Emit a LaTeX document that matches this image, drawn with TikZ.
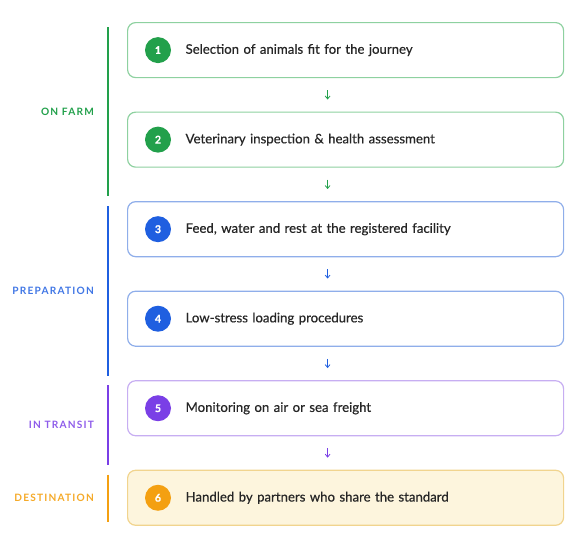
\documentclass[tikz,border=0pt]{standalone}
\usepackage{fontspec}
\setmainfont{Lato}[FakeBold=0.5]
\newfontfamily\phasefont[LetterSpace=12]{Lato Bold}
\usetikzlibrary{positioning,arrows.meta}
\definecolor{vert}{HTML}{22A04B}
\definecolor{vertclair}{HTML}{8ED1A0}
\definecolor{bleu}{HTML}{1F5FE0}
\definecolor{bleuclair}{HTML}{8FAEEA}
\definecolor{violet}{HTML}{7A3FE6}
\definecolor{violetclair}{HTML}{C7AEF2}
\definecolor{orange}{HTML}{F4A011}
\definecolor{orangeclair}{HTML}{F1D48E}
\definecolor{creme}{HTML}{FDF5DD}
\definecolor{texte}{HTML}{262626}
\tikzset{
  etape/.style={rectangle,rounded corners=6pt,draw=#1clair,line width=0.9pt,fill=white,
    minimum width=327pt,minimum height=41.25pt,inner xsep=43.5pt,text width=240pt,
    align=left,font=\fontsize{9.9}{11}\selectfont,text=texte},
  numero/.style={circle,fill=#1,text=white,minimum size=19.5pt,inner sep=0pt,
    font=\fontsize{8}{9}\selectfont\bfseries},
  fleche/.style={draw=#1,line width=0.6pt,-{Straight Barb[length=2.2pt,width=3.6pt]},
    shorten <=9pt,shorten >=9pt},
  phase/.style={draw=#1,line width=1.5pt},
  nomphase/.style={anchor=east,text=#1,font=\fontsize{7.6}{8}\phasefont}
}

\begin{document}
\begin{tikzpicture}[x=0.75pt,y=-0.75pt,node distance=25pt]
\useasboundingbox (0,0) rectangle (581,540);

\node[etape=vert,anchor=north west] (S1) at (127,22) {Selection of animals fit for the journey};
\node[etape=vert] (S2) [below =of S1] {Veterinary inspection \& health assessment};
\node[etape=bleu] (S3) [below =of S2] {Feed, water and rest at the registered facility};
\node[etape=bleu] (S4) [below =of S3] {Low-stress loading procedures};
\node[etape=violet] (S5) [below =of S4] {Monitoring on air or sea freight};
\node[etape=orange,fill=creme] (S6) [below =of S5] {Handled by partners who share the standard};

\node[numero=vert] (N1) at ([xshift=23.25pt]S1.west) {1};
\node[numero=vert] (N2) at ([xshift=23.25pt]S2.west) {2};
\node[numero=bleu] (N3) at ([xshift=23.25pt]S3.west) {3};
\node[numero=bleu] (N4) at ([xshift=23.25pt]S4.west) {4};
\node[numero=violet] (N5) at ([xshift=23.25pt]S5.west) {5};
\node[numero=orange] (N6) at ([xshift=23.25pt]S6.west) {6};

\draw[fleche=vert] ([xshift=-13.5pt]S1.south) to ([xshift=-13.5pt]S2.north);
\draw[fleche=vert] ([xshift=-13.5pt]S2.south) to ([xshift=-13.5pt]S3.north);
\draw[fleche=bleu] ([xshift=-13.5pt]S3.south) to ([xshift=-13.5pt]S4.north);
\draw[fleche=bleu] ([xshift=-13.5pt]S4.south) to ([xshift=-13.5pt]S5.north);
\draw[fleche=violet] ([xshift=-13.5pt]S5.south) to ([xshift=-13.5pt]S6.north);

% barres des phases
\coordinate (P1a) at ([xshift=-14.25pt,yshift=-3.75pt]S1.north west);
\coordinate (P1b) at ([xshift=-14.25pt,yshift=-21pt]S2.south west);
\coordinate (P2a) at ([xshift=-14.25pt,yshift=-3.75pt]S3.north west);
\coordinate (P2b) at ([xshift=-14.25pt,yshift=-21.75pt]S4.south west);
\coordinate (P3a) at ([xshift=-14.25pt,yshift=-3.75pt]S5.north west);
\coordinate (P3b) at ([xshift=-14.25pt,yshift=-21.75pt]S5.south west);
\coordinate (P4a) at ([xshift=-14.25pt,yshift=-3.75pt]S6.north west);
\coordinate (P4b) at ([xshift=-14.25pt,yshift=3pt]S6.south west);
\draw[phase=vert] (P1a) -- (P1b) node[midway,nomphase=vert,xshift=-6.5pt] (L1) {ON FARM};
\draw[phase=bleu] (P2a) -- (P2b) node[midway,nomphase=bleu!85!white,xshift=-6.5pt] (L2) {PREPARATION};
\draw[phase=violet] (P3a) -- (P3b) node[midway,nomphase=violet!85!white,xshift=-6.5pt] (L3) {IN TRANSIT};
\draw[phase=orange] (P4a) -- (P4b) node[midway,nomphase=orange!90!white,xshift=-6.5pt] (L4) {DESTINATION};

\end{tikzpicture}
\end{document}
